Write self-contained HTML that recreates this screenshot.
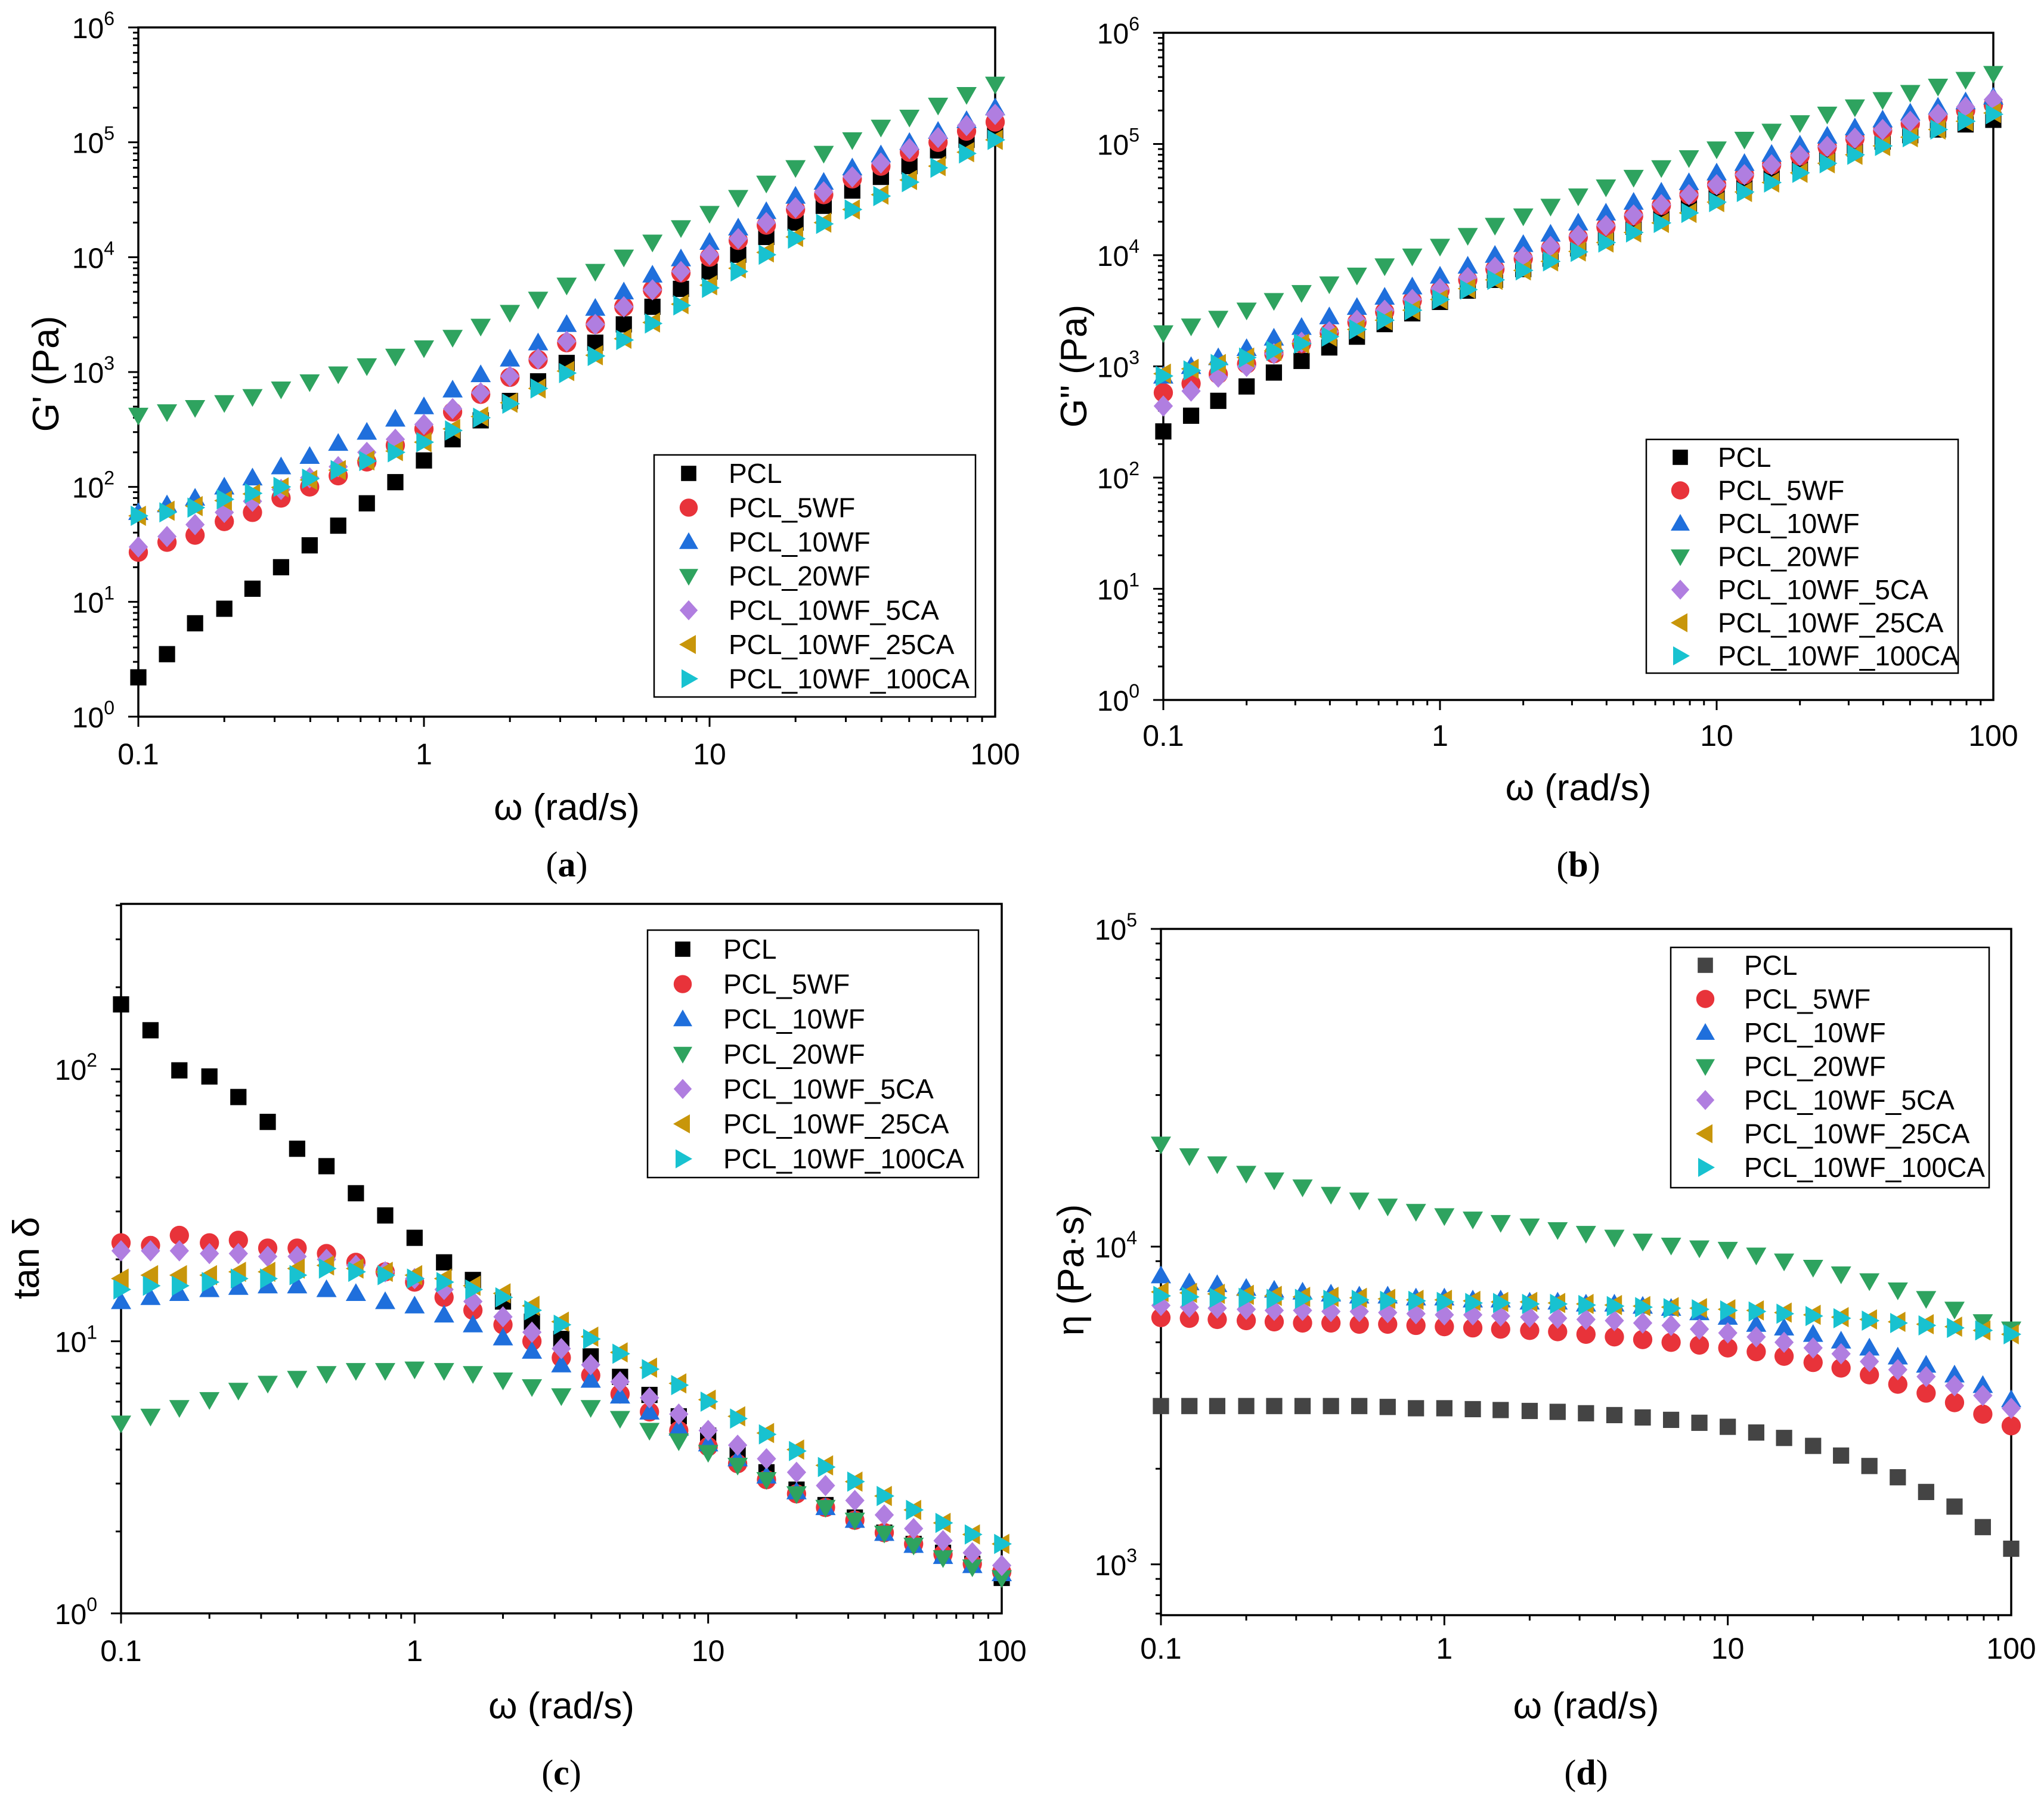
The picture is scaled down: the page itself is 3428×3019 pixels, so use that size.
<!DOCTYPE html>
<html><head><meta charset="utf-8"><style>
html,body{margin:0;padding:0;background:#fff;}
svg{display:block;font-family:"Liberation Sans",Arial,sans-serif;}
</style></head><body>
<svg id="fig" xmlns="http://www.w3.org/2000/svg" width="3428" height="3019" viewBox="0 0 3428 3019">
<rect width="3428" height="3019" fill="#fff"/>
</svg>
<script>
const omega = [0.1,0.126,0.158,0.2,0.251,0.316,0.398,0.501,0.631,0.794,1,1.26,1.58,2,2.51,3.16,3.98,5.01,6.31,7.94,10,12.6,15.8,20,25.1,31.6,39.8,50.1,63.1,79.4,100];
const seriesNames = ["PCL","PCL_5WF","PCL_10WF","PCL_20WF","PCL_10WF_5CA","PCL_10WF_25CA","PCL_10WF_100CA"];

// (a) G'
const gp_PCL = [2.2,3.5,6.5,8.7,13,20,31,46,72,110,170,260,380,560,830,1200,1800,2600,3700,5300,7500,10500,15000,20000,28000,38000,50000,62000,85000,105000,125000];
const gp_5WF = [27,33,38,50,60,80,100,125,165,230,320,450,640,900,1280,1800,2600,3700,5200,7300,10000,14000,19000,26000,35000,48000,62000,82000,100000,125000,150000];
const gp_10WF = [60,70,80,100,120,150,185,240,300,390,500,700,950,1300,1800,2600,3600,5000,7000,9700,13500,18000,25000,34000,45000,60000,78000,100000,125000,155000,200000];
const gp_20WF = [420,450,490,540,610,710,820,960,1130,1370,1620,2000,2500,3300,4300,5700,7500,10000,13500,18000,24000,33000,44000,60000,80000,105000,135000,165000,210000,260000,320000];
const gp_5CA = [30,37,47,60,75,95,120,150,200,260,350,480,660,920,1300,1850,2600,3700,5200,7500,10500,14500,20000,27000,37000,50000,66000,88000,110000,140000,175000];
const gp_25CA = [56,62,68,76,87,99,115,140,170,205,245,320,410,540,720,1020,1400,1950,2700,3900,5700,8000,11000,15000,20000,26000,35000,47000,62000,82000,105000];
const gp_100CA = [56,60,66,78,88,100,118,140,168,200,245,310,400,530,720,980,1380,1900,2650,3800,5400,7500,10500,14500,19500,26000,34000,45000,60000,80000,105000];

// (b) G''
const gpp_PCL = [260,360,490,660,880,1120,1480,1850,2400,3000,3800,4800,6000,7500,9300,11500,14500,18000,22500,28000,34000,42000,52000,63000,76000,91000,105000,120000,135000,150000,165000];
const gpp_5WF = [580,700,850,1050,1300,1600,2000,2500,3100,3900,4800,6000,7500,9300,11500,14500,18000,22500,28000,35000,43000,53000,65000,78000,94000,112000,132000,152000,175000,200000,225000];
const gpp_10WF = [820,1000,1200,1450,1800,2250,2800,3400,4200,5200,6500,8000,10000,12500,15500,19500,24000,30000,37000,45000,55000,67000,81000,98000,118000,140000,165000,190000,215000,240000,265000];
const gpp_20WF = [2000,2300,2700,3200,3900,4600,5500,6600,8000,9800,12000,15000,18500,22500,27500,34000,41000,50000,61000,75000,90000,110000,130000,155000,185000,215000,250000,290000,330000,380000,430000];
const gpp_5CA = [440,600,800,1000,1300,1650,2050,2600,3200,4000,5000,6300,7800,9700,12000,15000,18500,23000,28500,35000,43000,53000,65000,79000,95000,113000,135000,160000,185000,215000,250000];
const gpp_25CA = [860,950,1050,1200,1380,1600,1850,2150,2600,3200,4000,5000,6000,7300,8800,10800,13000,16000,19500,24000,30000,37000,45000,55000,67000,80000,96000,115000,135000,160000,190000];
const gpp_100CA = [820,920,1050,1200,1380,1600,1850,2150,2600,3200,4000,4900,6000,7300,8800,10700,13000,16000,19500,24000,30000,37000,45000,55000,67000,80000,96000,115000,135000,160000,185000];

// (c) tan delta
const td_PCL = [173,139,99,94,79,64,51,44,35,29,24,19.5,16.8,14,11.8,10.2,8.8,7.4,6.35,5.3,4.5,3.85,3.3,2.85,2.5,2.25,1.98,1.8,1.67,1.52,1.35];
const td_5WF = [23,22.5,24.5,23,23.5,22,22,21,19.5,18,16.5,14.5,13,11.5,10,8.7,7.5,6.4,5.5,4.7,4.1,3.55,3.1,2.75,2.45,2.2,1.98,1.8,1.65,1.52,1.42];
const td_10WF = [14,14.5,15,15.5,15.8,16,16,15.5,15,14,13.5,12.5,11.5,10.3,9.2,8.2,7.2,6.3,5.5,4.8,4.2,3.7,3.2,2.8,2.45,2.2,1.97,1.78,1.62,1.5,1.4];
const td_20WF = [5.0,5.3,5.7,6.1,6.6,7.0,7.3,7.6,7.8,7.8,7.9,7.8,7.6,7.2,6.8,6.3,5.7,5.2,4.7,4.3,3.9,3.5,3.1,2.75,2.45,2.2,1.97,1.78,1.6,1.48,1.35];
const td_5CA = [21.5,21.5,21.5,21,21,20.5,20.5,20,19,18,17,15.5,14,12.3,10.8,9.4,8.2,7.1,6.2,5.4,4.7,4.15,3.7,3.3,2.95,2.6,2.3,2.05,1.85,1.67,1.5];
const td_25CA = [17,17.5,17.5,17.5,18,18,18.5,19,18.5,18,17.5,17,16,15,13.5,11.8,10.4,9.1,8,7,6.1,5.3,4.6,4.0,3.5,3.05,2.7,2.4,2.15,1.95,1.8];
const td_100CA = [15.5,16,16,16.5,17,17,17.5,18.5,18,17.5,17,16.5,15.5,14.5,13,11.5,10.2,9,7.9,6.9,6,5.2,4.55,3.95,3.45,3.05,2.7,2.4,2.15,1.95,1.8];

// (d) complex viscosity
const eta_PCL = [3150,3150,3150,3150,3150,3150,3150,3150,3130,3100,3100,3080,3060,3040,3020,2990,2950,2900,2850,2790,2710,2600,2500,2360,2200,2040,1880,1690,1520,1310,1120];
const eta_5WF = [5980,5950,5900,5850,5800,5750,5750,5700,5700,5650,5600,5550,5500,5450,5400,5300,5200,5100,5000,4900,4800,4670,4520,4320,4150,3950,3690,3460,3230,2970,2730];
const eta_10WF = [8100,7700,7600,7400,7300,7200,7100,7000,7000,6900,6900,6800,6800,6700,6700,6600,6600,6500,6400,6200,6000,5700,5550,5300,5050,4800,4500,4240,3950,3660,3300];
const eta_20WF = [21000,19300,18200,17000,16200,15400,14600,14000,13400,12900,12500,12200,11900,11600,11300,11000,10700,10400,10100,9900,9800,9400,9000,8600,8200,7800,7300,6860,6350,5800,5500];
const eta_5CA = [6530,6450,6400,6350,6300,6300,6250,6250,6200,6150,6100,6100,6050,6000,5950,5900,5850,5750,5650,5500,5350,5200,5000,4800,4600,4350,4100,3900,3650,3400,3100];
const eta_25CA = [7200,7150,7100,7050,7000,6950,6950,6900,6850,6800,6800,6750,6700,6700,6650,6600,6550,6500,6450,6400,6350,6300,6200,6100,6000,5900,5800,5700,5600,5450,5300];
const eta_100CA = [7000,6950,6900,6900,6850,6850,6800,6800,6750,6750,6700,6650,6650,6600,6600,6550,6500,6450,6400,6350,6300,6250,6150,6050,5950,5850,5750,5650,5550,5450,5300];

const xTickLabels = ["0.1","1","10","100"];
const colors = ["#000000","#e8333a","#1f6fdc","#2ea35f","#b07ee0","#c8960a","#18c2d0"];
const shapes = ["square","circle","up","down","diamond","left","right"];

const NS = "http://www.w3.org/2000/svg";
const svg = document.getElementById("fig");
function mk(tag, attrs, parent){
  const e = document.createElementNS(NS, tag);
  for (const k in attrs) e.setAttribute(k, attrs[k]);
  (parent||svg).appendChild(e);
  return e;
}
function marker(shape, cx, cy, s, color, parent){
  let e;
  if (shape==="square") e = mk("rect",{x:cx-s*0.8,y:cy-s*0.8,width:s*1.6,height:s*1.6,fill:color},parent);
  else if (shape==="circle") e = mk("circle",{cx:cx,cy:cy,r:s*0.95,fill:color},parent);
  else {
    let p;
    if (shape==="up") p=[[cx,cy-s],[cx+s,cy+s*0.75],[cx-s,cy+s*0.75]];
    if (shape==="down") p=[[cx,cy+s],[cx+s,cy-s*0.75],[cx-s,cy-s*0.75]];
    if (shape==="diamond") p=[[cx,cy-s*1.05],[cx+s*0.95,cy],[cx,cy+s*1.05],[cx-s*0.95,cy]];
    if (shape==="left") p=[[cx-s,cy],[cx+s*0.75,cy-s],[cx+s*0.75,cy+s]];
    if (shape==="right") p=[[cx+s,cy],[cx-s*0.75,cy-s],[cx-s*0.75,cy+s]];
    e = mk("polygon",{points:p.map(q=>q.join(",")).join(" "),fill:color},parent);
  }
  return e;
}

function drawPanel(cfg){
  const g = mk("g",{});
  
  
  const L=cfg.left,R=cfg.right,T=cfg.top,B=cfg.bottom;
  const lx0=Math.log10(0.1), lx1=Math.log10(100);
  const ly0=Math.log10(cfg.ymin), ly1=Math.log10(cfg.ymax);
  const xs = v => L + (Math.log10(v)-lx0)/(lx1-lx0)*(R-L);
  const ys = v => B - (Math.log10(v)-ly0)/(ly1-ly0)*(B-T);
  for (let d=-1; d<2; d++){
    for (let m=1; m<10; m++){
      const v = m*Math.pow(10,d);
      const x = xs(v);
      const t = mk("line",{x1:x,x2:x,y1:B,y2:B+(m===1?17:9),stroke:"#000","stroke-width":3},g);
      
      
    }
  }
  xTickLabels.forEach((lab,i)=>{
    const t = mk("text",{x:xs(Math.pow(10,i-1)),y:cfg.xTickY+17,"text-anchor":"middle","font-size":50,fill:"#000"},g);
    t.textContent = lab;
    
    
  });
  for (let d=Math.floor(ly0); d<=Math.ceil(ly1); d++){
    for (let m=1; m<10; m++){
      const v = m*Math.pow(10,d);
      const lv = Math.log10(v);
      if (lv < ly0-1e-6 || lv > ly1+1e-6) continue;
      const y = ys(v);
      const t = mk("line",{x1:L-(m===1?17:9),x2:L,y1:y,y2:y,stroke:"#000","stroke-width":3},g);
      
      
      if (m===1){
        const tx = mk("text",{x:L-40,y:y+18,"text-anchor":"end","font-size":48,fill:"#000"},g);
        tx.textContent = "10";
        const sp = mk("tspan",{dy:-22,"font-size":32},tx);
        sp.textContent = String(d);
        
        
      }
    }
  }
  const fr = mk("rect",{x:L,y:T,width:R-L,height:B-T,fill:"none",stroke:"#000","stroke-width":3.5},g);
  
  
  cfg.data.forEach((arr,si)=>{
    const sg = mk("g",{},g);
    
    
    const col = (si===0 && cfg.pclColor) ? cfg.pclColor : colors[si];
    arr.forEach((v,i)=>{
      const p = marker(shapes[si], xs(omega[i]), ys(v), 17, col, sg);
      
      
    });
  });
  const lg = mk("g",{},g);
  
  
  const lb = mk("rect",{x:cfg.leg[0],y:cfg.leg[1],width:cfg.leg[2]-cfg.leg[0],height:cfg.leg[3]-cfg.leg[1],fill:"#fff",stroke:"#000","stroke-width":2.5},lg);
  
  
  seriesNames.forEach((n,si)=>{
    const y = cfg.legRow0 + si*cfg.legStep;
    const col = (si===0 && cfg.pclColor) ? cfg.pclColor : colors[si];
    const m = marker(shapes[si], cfg.legMx, y, 16, col, lg);
    
    
    const t = mk("text",{x:cfg.legTx,y:y+16,"font-size":46,fill:"#000"},lg);
    t.textContent = n;
    
    
  });
  const xt = mk("text",{x:(L+R)/2,y:cfg.xTitleY+21,"text-anchor":"middle","font-size":62,fill:"#000"},g);
  xt.textContent = "ω (rad/s)";
  
  
  const yt = mk("text",{x:0,y:0,"text-anchor":"middle","font-size":62,fill:"#000",transform:"translate("+(cfg.yTitleX+21)+","+cfg.yTitleY+") rotate(-90)"},g);
  yt.textContent = cfg.ytitle;
  
  
  const pl = mk("text",{x:(L+R)/2,y:cfg.labelY+20,"text-anchor":"middle","font-size":60,fill:"#000","font-family":"Liberation Serif, serif"},g);
  pl.textContent = "(";
  const b = mk("tspan",{"font-weight":"bold"},pl);
  b.textContent = cfg.letter;
  const c2 = mk("tspan",{},pl);
  c2.textContent = ")";
  
  
}

drawPanel({name:"panel-a-storage-modulus",left:232,right:1669,top:46,bottom:1202,ymin:1,ymax:1e6,
  data:[gp_PCL,gp_5WF,gp_10WF,gp_20WF,gp_5CA,gp_25CA,gp_100CA],
  leg:[1097,763,1636,1169],legRow0:794,legStep:57.4,legMx:1155,legTx:1222,
  xTickY:1265,xTitleY:1354,labelY:1450,yTitleX:77,yTitleY:627,ytitle:"G' (Pa)",letter:"a"});
drawPanel({name:"panel-b-loss-modulus",left:1951,right:3343,top:55,bottom:1174,ymin:1,ymax:1e6,
  data:[gpp_PCL,gpp_5WF,gpp_10WF,gpp_20WF,gpp_5CA,gpp_25CA,gpp_100CA],
  leg:[2761,737,3284,1129],legRow0:767,legStep:55.5,legMx:2818,legTx:2881,
  xTickY:1234,xTitleY:1321,labelY:1450,yTitleX:1801,yTitleY:614,ytitle:"G'' (Pa)",letter:"b"});
drawPanel({name:"panel-c-tan-delta",left:203,right:1680,top:1516,bottom:2706,ymin:1,ymax:405,
  data:[td_PCL,td_5WF,td_10WF,td_20WF,td_5CA,td_25CA,td_100CA],
  leg:[1086,1560,1641,1975],legRow0:1592,legStep:58.6,legMx:1145,legTx:1213,
  xTickY:2769,xTitleY:2861,labelY:2973,yTitleX:44,yTitleY:2110,ytitle:"tan δ",letter:"c"});
drawPanel({name:"panel-d-complex-viscosity",left:1947,right:3373,top:1558,bottom:2709,ymin:692,ymax:1e5,
  data:[eta_PCL,eta_5WF,eta_10WF,eta_20WF,eta_5CA,eta_25CA,eta_100CA],pclColor:"#444444",
  leg:[2802,1589,3336,1992],legRow0:1619,legStep:56.5,legMx:2860,legTx:2925,
  xTickY:2765,xTitleY:2861,labelY:2973,yTitleX:1796,yTitleY:2130,ytitle:"η (Pa·s)",letter:"d"});
</script>
</body></html>
